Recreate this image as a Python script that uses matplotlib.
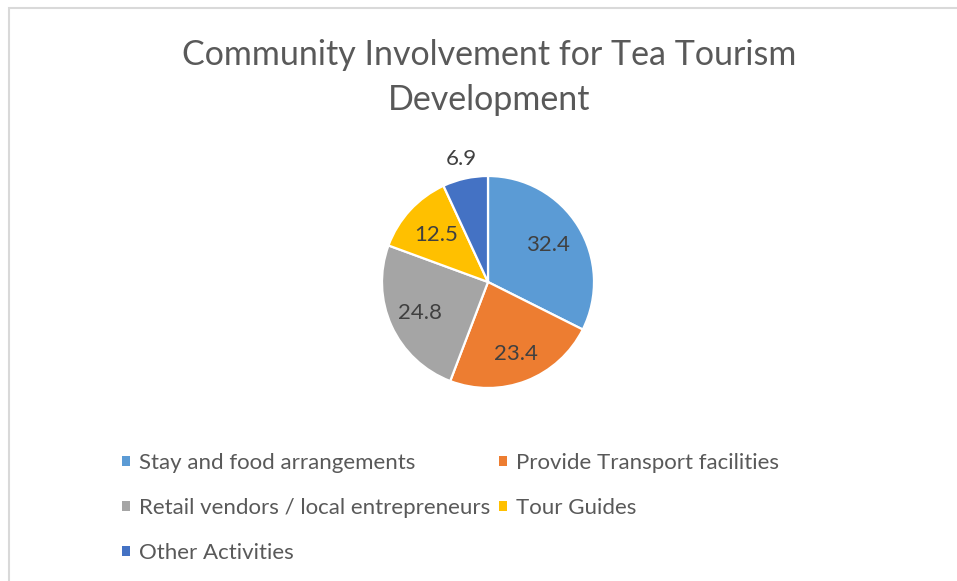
import matplotlib
matplotlib.use("Agg")
import matplotlib.pyplot as plt
from matplotlib.patches import Patch, Rectangle
import numpy as np

categories = ["Stay and food arrangements", "Provide Transport facilities",
              "Retail vendors / local entrepreneurs", "Tour Guides", "Other Activities"]
values = [32.4, 23.4, 24.8, 12.5, 6.9]
labels = ["32.4", "23.4", "24.8", "12.5", "6.9"]
colors = ["#5b9bd5", "#ed7d31", "#a5a5a5", "#ffc000", "#4472c4"]
title_lines = ["Community Involvement for Tea Tourism", "Development"]

plt.rcParams['font.family'] = ['Lato', 'DejaVu Sans']

W, H = 957, 581
fig = plt.figure(figsize=(W / 100, H / 100), dpi=100)
ax = fig.add_axes([0, 0, 1, 1])

cx, cy, r = 488, H - 282, 106
wedges, _ = ax.pie(values, colors=colors, startangle=90, counterclock=False,
                   center=(cx, cy), radius=r, frame=True,
                   wedgeprops=dict(edgecolor="white", linewidth=1.6))
ax.set_xlim(0, W)
ax.set_ylim(0, H)
ax.set_aspect('equal')
ax.axis('off')

# chart-area border
ax.add_patch(Rectangle((9, -10), W + 20, H - 8 + 10, fill=False,
                       edgecolor="#d9d9d9", linewidth=1.5))

label_dist = [0.66, 0.73, 0.70, 0.66, 1.19]
for w, lab, d in zip(wedges, labels, label_dist):
    ang = np.deg2rad((w.theta1 + w.theta2) / 2)
    ax.text(cx + d * r * np.cos(ang), cy + d * r * np.sin(ang), lab,
            ha="center", va="center", fontsize=16, color="#404040")

for line, ypix in zip(title_lines, [55, 100]):
    fig.text(489 / W, 1 - ypix / H, line, ha="center", va="center",
             fontsize=24.5, color="#595959")

order = [0, 2, 4, 1, 3]
handles = [Patch(facecolor=colors[i], edgecolor="none") for i in order]
leg = fig.legend(handles, [categories[i] for i in order], ncol=2,
                 loc="upper left", bbox_to_anchor=(111 / W, 1 - 442 / H),
                 frameon=False, fontsize=16, labelcolor="#595959",
                 handlelength=0.36, handleheight=0.36, handletextpad=0.4,
                 columnspacing=0.4, labelspacing=1.12, borderpad=0)

fig.savefig("out.png", dpi=100)
